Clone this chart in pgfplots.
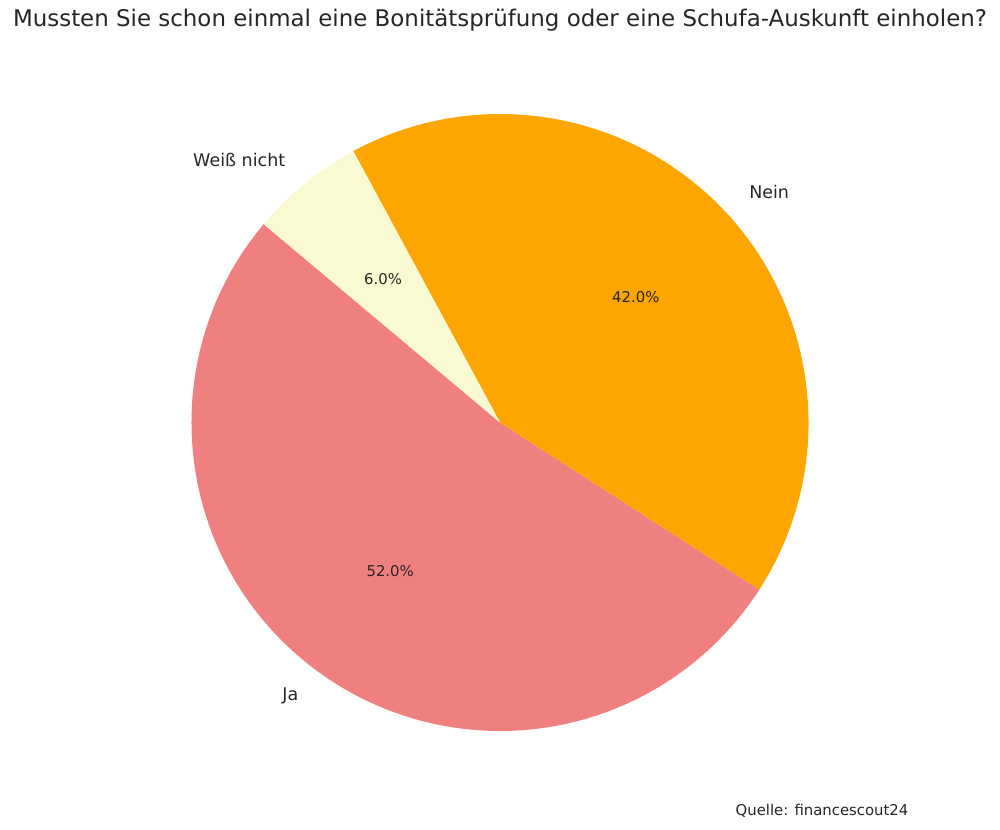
\documentclass[border=0pt]{standalone}
\usepackage{pgfplots}
\pgfplotsset{compat=1.18}
\usepackage{fontspec}
\setmainfont{DejaVu Sans}

\definecolor{txt}{HTML}{262626}
\definecolor{cJa}{HTML}{F08080}
\definecolor{cNein}{HTML}{FFA500}
\definecolor{cWn}{HTML}{FAFAD2}

\newcommand\titlefont{\fontsize{16.5}{20}\selectfont}
\newcommand\labfont{\fontsize{12.6}{15}\selectfont}
\newcommand\pctfont{\fontsize{10.7}{13}\selectfont}

% radius of the pie: 308.5 px at 0.72pt per px
\def\R{222.12pt}
\def\Rl{244.33pt}
\def\Rp{133.27pt}

\begin{document}
\begin{tikzpicture}
\begin{axis}[
    width=720pt, height=596.88pt,
    scale only axis,
    xmin=0, xmax=1000, ymin=0, ymax=829,
    hide axis, clip=false,
]
% whole figure area, so the page keeps the 1000x829 frame
\path (axis cs:0,0) rectangle (axis cs:1000,829);
% share in percent / label / colour, starting at 140 degrees
\foreach \v/\lab/\col [remember=\e as \s (initially 140)] in
    {52/Ja/cJa, 42/Nein/cNein, 6/Weiß nicht/cWn} {
  \pgfmathsetmacro\e{\s+3.6*\v}
  \pgfmathsetmacro\m{(\s+\e)/2}
  \pgfmathparse{cos(\m)<0 ? "east" : "west"}
  \let\anc\pgfmathresult
  \edef\temp{%
    \noexpand\fill[\col] (axis cs:500,406.5) -- ++(\s:\R)
      arc[start angle=\s, end angle=\e, radius=\R] -- cycle;
    \noexpand\path (axis cs:500,406.5) ++(\m:\Rl)
      node[anchor=\anc, inner sep=0pt, text=txt, font=\noexpand\labfont] {\lab};
    \noexpand\path (axis cs:500,406.5) ++(\m:\Rp)
      node[text=txt, font=\noexpand\pctfont] {\v.0\%};
  }
  \temp
}
\node[text=txt, font=\titlefont] at (axis cs:500,809)
  {Mussten Sie schon einmal eine Bonitätsprüfung oder eine Schufa-Auskunft einholen?};
\node[text=txt, font=\pctfont] at (axis cs:822,18) {Quelle: financescout24};
\end{axis}
\end{tikzpicture}
\end{document}
